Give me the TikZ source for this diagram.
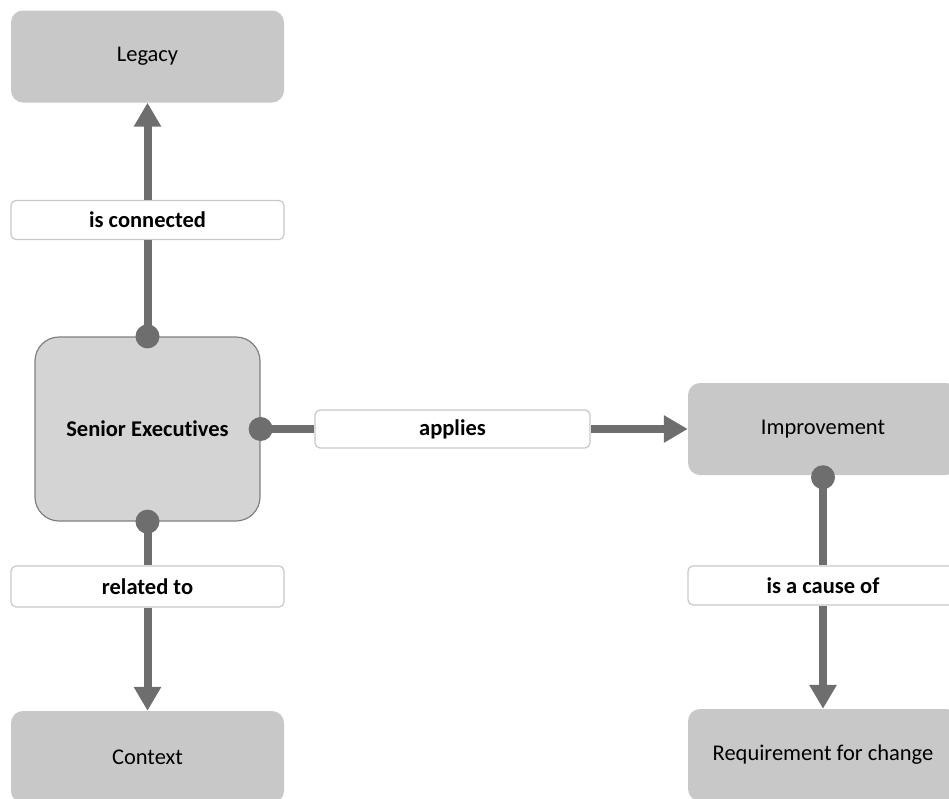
\documentclass[tikz,border=0pt]{standalone}
\usepackage{fontspec}
\setmainfont{Carlito}[Ligatures=NoCommon]
\usetikzlibrary{arrows.meta}
\definecolor{boxfill}{RGB}{200,200,200}
\definecolor{mainfill}{RGB}{212,212,212}
\definecolor{mainborder}{RGB}{128,128,128}
\definecolor{connclr}{RGB}{110,110,110}
\definecolor{lblborder}{RGB}{200,200,200}
\begin{document}
\begin{tikzpicture}[x=1pt,y=-1pt,
  concept/.style={fill=boxfill, rounded corners=12pt, minimum width=273pt, minimum height=92pt,
    inner sep=0pt, font=\fontsize{22.5}{26}\selectfont},
  mainconcept/.style={fill=mainfill, draw=mainborder, line width=1.2pt, rounded corners=24pt,
    minimum width=225pt, minimum height=184pt, inner sep=0pt, font=\fontsize{22.5}{26}\selectfont\bfseries},
  linklabel/.style={fill=white, draw=lblborder, line width=1.2pt, rounded corners=5pt,
    minimum width=273pt, minimum height=39pt, inner sep=0pt, font=\fontsize{22.5}{26}\selectfont\bfseries},
  conn/.style={draw=connclr, line width=8pt},
  arr/.style={conn, -{Triangle[length=24pt,width=26pt]}},
  dot/.style={fill=connclr}
]
\clip (0,0) rectangle (949,798);
\useasboundingbox (0,0) rectangle (949,798);

% concepts
\node[concept] (legacy) at (147.5,56.5) {Legacy};
\node[mainconcept] (senior) at (147.5,429) {Senior Executives};
\node[concept] (context) at (147.5,757) {Context};
\node[concept, minimum width=270pt] (improve) at (823,429) {Improvement};
\node[concept, minimum width=270pt] (require) at (823,755) {Requirement for change};

% link labels
\node[linklabel] (lconn) at (147.5,220) {is connected};
\node[linklabel, minimum height=38pt, minimum width=275pt] (lapply) at (452.5,429) {applies};
\node[linklabel, minimum height=41pt] (lrel) at (147.5,586.5) {related to};
\node[linklabel, minimum width=270pt] (lcause) at (823,585.5) {is a cause of};

% connectors
\draw[conn] (senior.north) -- (lconn.south);
\draw[arr] (lconn.north) -- (legacy.south);
\fill[dot] (senior.north) circle (12pt);

\draw[conn] (senior.east) -- (lapply.west);
\draw[arr] (lapply.east) -- (improve.west);
\fill[dot] (senior.east) circle (12pt);

\draw[conn] (senior.south) -- (lrel.north);
\draw[arr] (lrel.south) -- (context.north);
\fill[dot] (senior.south) circle (12pt);

\draw[conn] (improve.south) -- (lcause.north);
\draw[arr] (lcause.south) -- (require.north);
\fill[dot] ([yshift=-2pt]improve.south) circle (12pt);
\end{tikzpicture}
\end{document}
